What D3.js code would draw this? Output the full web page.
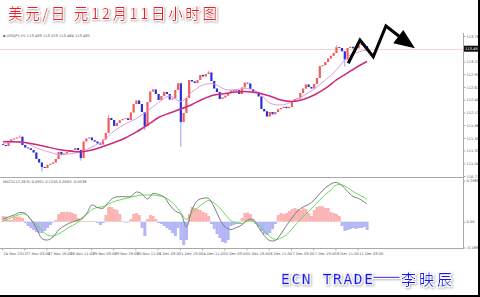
<!DOCTYPE html>
<html><head><meta charset="utf-8">
<script src="https://cdn.jsdelivr.net/npm/d3@7"></script>
<style>html,body{margin:0;padding:0;background:#fff;}svg{display:block;}</style>
</head><body>
<script>
// ---------- DATA ----------
const dateLabels = ["24 Nov 2017","27 Nov 03:00","27 Nov 19:00","28 Nov 11:00","29 Nov 03:00","29 Nov 19:00","30 Nov 11:00","1 Dec 03:00","1 Dec 19:00","4 Dec 11:00","5 Dec 03:00","5 Dec 19:00","6 Dec 11:00","7 Dec 03:00","7 Dec 19:00","8 Dec 11:00","11 Dec 03:00"];
const priceTicks = ["113.765","113.493","113.220","112.950","112.675","112.405","112.130","111.860","111.585","111.315","111.040","110.770"];
const macdTicks = ["0.2988","0.00","-0.1881"];
const firstOpen = 111.45;
const closes = [111.433,111.412,111.498,111.551,111.573,111.594,111.611,111.433,111.380,111.363,
111.327,111.273,111.134,111.059,110.963,110.942,111.010,111.031,111.059,111.134,
111.284,111.220,111.252,111.284,111.327,111.327,111.369,111.327,111.155,111.508,
111.573,111.594,111.536,111.508,111.466,111.444,111.551,111.690,112.011,111.968,
111.840,111.904,111.964,111.990,112.005,111.968,112.129,112.310,112.385,112.310,
112.139,111.840,112.353,112.578,112.621,112.524,112.396,112.482,112.567,112.524,
112.407,112.428,112.610,112.753,111.925,112.118,112.439,112.824,112.792,112.760,
112.824,112.931,112.899,112.952,112.984,112.802,112.642,112.567,112.417,112.450,
112.488,112.546,112.599,112.582,112.606,112.524,112.663,112.766,112.749,112.631,
112.574,112.556,112.471,112.204,112.154,112.043,112.139,112.090,112.139,112.197,
112.225,112.251,112.221,112.246,112.364,112.417,112.428,112.546,112.640,112.728,
112.674,112.642,112.738,112.867,113.119,113.140,113.209,113.284,113.341,113.401,
113.525,113.508,113.438,113.262,113.508,113.534,113.502,113.502,113.572,113.594,
113.551,113.485];
const wickIndex = [6,14,28,38,51,64,74,120,123,129];
const wickHigh  = [111.647,null,null,112.075,null,null,113.02,113.57,null,113.64];
const wickLow   = [null,110.862,111.10,null,111.754,111.397,null,null,113.108,null];
const maFast = [111.466,111.498,111.487,111.369,111.294,111.230,111.241,111.294,111.391,111.519,
111.733,111.883,112.000,112.161,112.343,112.482,112.364,112.567,112.717,112.738,
112.621,112.621,112.642,112.556,112.332,112.289,112.353,112.482,112.631,112.824,
113.038,113.316,113.423,113.466];
const maSlow = [111.504,111.504,111.487,111.444,111.391,111.337,111.305,111.290,111.327,111.401,
111.487,111.583,111.712,111.861,112.022,112.118,112.204,112.300,112.417,112.503,
112.535,112.567,112.574,112.546,112.482,112.396,112.364,112.407,112.503,112.642,
112.824,112.974,113.123,113.220];
const histo = [0.0416,0.0379,0.0124,0.0124,0.0343,0.0379,0.0365,0.0270,-0.0095,-0.0313,
-0.0459,-0.0605,-0.0751,-0.0824,-0.0824,-0.0678,-0.0459,-0.0241,-0.0058,0.0124,
0.0561,0.0707,0.0707,0.0729,0.0707,0.0634,0.0561,0.0270,0.0051,0.0051,
0.0051,0.0051,0.0051,0.0051,-0.0095,-0.0241,-0.0095,0.0488,0.1072,0.1072,
0.0926,0.0853,0.0561,0.0051,-0.0058,-0.0058,0.0197,0.0561,0.0634,0.0488,
-0.0459,-0.1042,0.0197,0.0488,0.0416,0.0197,-0.0095,-0.0168,-0.0313,-0.0459,
-0.0605,-0.0824,-0.1042,-0.0459,-0.1334,-0.1699,-0.1334,0.0561,0.1072,0.0999,
0.0926,0.0853,0.0707,0.0634,0.0416,-0.0168,-0.0532,-0.0897,-0.1188,-0.1480,
-0.1553,-0.1334,-0.0313,-0.0241,-0.0168,-0.0095,0.0270,0.0634,0.0671,0.0561,
0.0197,-0.0168,-0.0386,-0.0678,-0.0897,-0.0970,-0.0824,-0.0532,-0.0168,0.0488,
0.0634,0.0561,0.0634,0.0780,0.0926,0.0999,0.0926,0.0853,0.0999,0.0926,
0.0634,0.0416,0.0853,0.1072,0.1145,0.1108,0.0999,0.0999,0.0707,0.0634,
0.0561,0.0416,-0.0313,-0.0678,-0.0605,-0.0532,-0.0459,-0.0532,-0.0459,-0.0459,
-0.0386,-0.0605];
const macdMain = [0.0197,0.0343,0.0488,0.0671,0.0598,0.0160,-0.0459,-0.1225,-0.1334,-0.1115,
-0.0605,-0.0313,-0.0095,0.0051,0.0197,0.0561,0.1217,0.1035,0.0977,0.1436,
0.1764,0.1823,0.1823,0.1837,0.2165,0.2019,0.1655,0.2056,0.1983,0.1801,
0.1217,0.0780,0.0561,-0.0386,0.0853,0.1545,0.1706,0.1691,0.1072,0.0197,
-0.0386,-0.0569,-0.0423,-0.0241,0.0124,0.0160,-0.0423,-0.1006,-0.1371,-0.1371,
-0.0897,-0.0277,0.0270,0.0780,0.1072,0.1254,0.1582,0.2056,0.2457,0.2748,
0.2858,0.2639,0.2202,0.1837,0.1691,0.1436,0.1290];
const macdSignal = [0.0051,0.0197,0.0379,0.0525,0.0561,0.0160,-0.0204,-0.0642,-0.0970,-0.1042,
-0.0897,-0.0642,-0.0386,-0.0168,0.0124,0.0488,0.0889,0.1035,0.1094,0.1290,
0.1473,0.1582,0.1691,0.1801,0.1874,0.1946,0.1946,0.1946,0.1874,0.1801,
0.1545,0.1181,0.0671,0.0160,0.0634,0.0999,0.1327,0.1545,0.1363,0.0999,
0.0525,0.0087,-0.0095,-0.0131,0.0051,0.0015,-0.0277,-0.0642,-0.1079,-0.1298,
-0.1188,-0.0970,-0.0532,-0.0058,0.0379,0.0744,0.1145,0.1582,0.1983,0.2311,
0.2675,0.2675,0.2493,0.2202,0.1983,0.1764,0.1618];
// hand-drawn forecast arrow, in (bar index, price)
const arrowIdx   = [124.25,128.47,133.25,137.82,142.9];
const arrowPrice = [113.181,113.679,113.322,113.979,113.744];
const arrowHeadIdx   = [144.05,148.25,140.45];
const arrowHeadPrice = [113.893,113.502,113.609];
const currentPrice = 113.493;
const headerText = "\u25AA USDJPY,H1  113.493 113.523 113.464 113.485";
const macdHeader = "MACD(12,26,9) 0.0901 0.1200 0.0000 -0.0038";
const titleText = "美元/日 元12月11日小时图";
const footerA = "ECN TRADE", footerB = "——", footerC = "李映辰";

// ---------- CHART ----------
const W = 480, H = 297;
const svg = d3.select("body").append("svg").attr("width", W).attr("height", H);
const defs = svg.append("defs");
const f = defs.append("filter").attr("id","glow").attr("x","-10%").attr("y","-30%").attr("width","120%").attr("height","160%");
f.append("feMorphology").attr("in","SourceAlpha").attr("operator","dilate").attr("radius",1.3).attr("result","d");
f.append("feGaussianBlur").attr("in","d").attr("stdDeviation",1.2).attr("result","b");
f.append("feOffset").attr("in","b").attr("dx",1.2).attr("dy",1.2).attr("result","o");
f.append("feFlood").attr("flood-color","#b8b8b8");
f.append("feComposite").attr("in2","o").attr("operator","in").attr("result","shadow");
f.append("feFlood").attr("flood-color","#ffffff");
f.append("feComposite").attr("in2","d").attr("operator","in").attr("result","white");
const fm = f.append("feMerge");
fm.append("feMergeNode").attr("in","shadow");
fm.append("feMergeNode").attr("in","white");
fm.append("feMergeNode").attr("in","SourceGraphic");

svg.append("rect").attr("width",W).attr("height",H).attr("fill","#fff");

const n = closes.length;
const x = d3.scaleLinear().domain([0, n - 1]).range([3, 367]);
const step = x(1) - x(0);
const y = d3.scaleLinear().domain([110.770, 113.765]).range([176, 36]);
const ym = d3.scaleLinear().domain([-0.1881, 0.2988]).range([247.5, 180.7]);

// frame / separators
const gray = "#a8a8a8";
svg.append("line").attr("x1",0).attr("x2",463).attr("y1",177.5).attr("y2",177.5).attr("stroke",gray);
svg.append("line").attr("x1",0).attr("x2",463).attr("y1",248.5).attr("y2",248.5).attr("stroke",gray);
svg.append("line").attr("x1",463.5).attr("x2",463.5).attr("y1",33).attr("y2",249).attr("stroke",gray);

// current price line
svg.append("line").attr("x1",0).attr("x2",463).attr("y1",Math.round(y(currentPrice))+0.5).attr("y2",Math.round(y(currentPrice))+0.5)
  .attr("stroke","#f6d4d4").attr("stroke-width",1);

// candles
const opens = closes.map((c,i) => i === 0 ? firstOpen : closes[i-1]);
const candles = closes.map((c,i) => {
  const o = opens[i];
  let hi = Math.max(o,c), lo = Math.min(o,c);
  const w = wickIndex.indexOf(i);
  if (w >= 0) { if (wickHigh[w] != null) hi = wickHigh[w]; if (wickLow[w] != null) lo = wickLow[w]; }
  return {i, o, c, hi, lo, up: c >= o};
});
const cg = svg.append("g");
cg.selectAll("line.w").data(candles).join("line")
  .attr("x1", d => x(d.i)).attr("x2", d => x(d.i))
  .attr("y1", d => y(d.hi)).attr("y2", d => y(d.lo))
  .attr("stroke", d => d.up ? "#f7a0a0" : "#9a9cf0").attr("stroke-width", 1);
cg.selectAll("rect").data(candles).join("rect")
  .attr("x", d => x(d.i) - 1.1).attr("width", 2.2)
  .attr("y", d => y(Math.max(d.o,d.c)))
  .attr("height", d => Math.max(0.8, Math.abs(y(d.o) - y(d.c))))
  .attr("fill", d => d.up ? "#f45c5c" : "#2d2fd6");

// moving averages
const maIndex = [...d3.range(0, n, 4), n - 1];
const maLine = d3.line().x((d,i) => x(maIndex[i])).y(d => y(d)).curve(d3.curveCatmullRom);
svg.append("path").datum(maFast).attr("d", maLine).attr("fill","none").attr("stroke","#d89ee8").attr("stroke-width",1);
svg.append("path").datum(maSlow).attr("d", maLine).attr("fill","none").attr("stroke","#cc2a7a").attr("stroke-width",1.5);

// arrow
const ap = arrowIdx.map((d,i) => [x(d), y(arrowPrice[i])]);
svg.append("path").attr("d", d3.line()(ap)).attr("fill","none").attr("stroke","#000").attr("stroke-width",3).attr("stroke-linejoin","miter");
const ah = arrowHeadIdx.map((d,i) => [x(d), y(arrowHeadPrice[i])]);
svg.append("path").attr("d", d3.line()(ah) + "Z").attr("fill","#000");

// MACD histogram
svg.append("g").selectAll("rect").data(histo).join("rect")
  .attr("x", (d,i) => x(i) - step/2).attr("width", step + 0.2)
  .attr("y", d => Math.min(ym(d), ym(0))).attr("height", d => Math.abs(ym(d) - ym(0)))
  .attr("fill", d => d >= 0 ? "#fbb3b3" : "#b3b5f7");
const macdIndex = [...d3.range(0, n, 2), n - 1];
const mline = d3.line().x((d,i) => x(macdIndex[i])).y(d => ym(d)).curve(d3.curveCatmullRom);
svg.append("path").datum(macdSignal).attr("d", mline).attr("fill","none").attr("stroke","#66dd55").attr("stroke-width",1);
svg.append("path").datum(macdMain).attr("d", mline).attr("fill","none").attr("stroke","#7d7d7d").attr("stroke-width",1);

// axes
const tinyFont = "DejaVu Sans";
const pAxis = d3.axisRight(y).tickValues(priceTicks.map(Number)).tickFormat((d,i) => priceTicks[i]).tickSize(2).tickPadding(1);
const pg = svg.append("g").attr("transform","translate(463.5,0)").call(pAxis);
pg.select(".domain").remove();
pg.selectAll(".tick line").attr("stroke", gray);
pg.selectAll("text").attr("font-family", tinyFont).attr("font-size", 3.6).attr("fill","#555");

// current price box
const cy = y(currentPrice);
svg.append("rect").attr("x",464).attr("y",cy-3).attr("width",14).attr("height",6).attr("fill","#111");
svg.append("text").attr("x",465).attr("y",cy+1.3).text(currentPrice.toFixed(3))
  .attr("font-family",tinyFont).attr("font-size",3.6).attr("fill","#fff");

const mAxis = d3.axisRight(ym).tickValues(macdTicks.map(Number)).tickFormat((d,i) => macdTicks[i]).tickSize(2).tickPadding(1);
const mg = svg.append("g").attr("transform","translate(463.5,0)").call(mAxis);
mg.select(".domain").remove();
mg.selectAll(".tick line").attr("stroke", gray);
mg.selectAll("text").attr("font-family", tinyFont).attr("font-size", 3.6).attr("fill","#555");

const dAxis = d3.axisBottom(x).tickValues(d3.range(0, n, 8)).tickFormat((d,i) => dateLabels[i]).tickSize(2).tickPadding(1.5);
const dg = svg.append("g").attr("transform","translate(-1,248.5)").call(dAxis);
dg.select(".domain").remove();
dg.selectAll(".tick line").attr("stroke", gray);
dg.selectAll("text").attr("font-family", tinyFont).attr("font-size", 3.6).attr("fill","#555")
  .attr("text-anchor","start").attr("x", 1);

// headers
svg.append("text").attr("x",3).attr("y",37).text(headerText).attr("font-family",tinyFont).attr("font-size",3.6).attr("fill","#555");
svg.append("text").attr("x",3).attr("y",183).text(macdHeader).attr("font-family",tinyFont).attr("font-size",3.6).attr("fill","#555");

// title
svg.append("text").attr("x",8).attr("y",19).text(titleText)
  .attr("font-family","'Noto Sans CJK SC'").attr("font-size",14.5).attr("fill","#ee1c24")
  .attr("textLength",209).attr("lengthAdjust","spacing").attr("filter","url(#glow)");

// footer
const ft = svg.append("g").attr("filter","url(#glow)");
ft.append("text").attr("x",281).attr("y",284).text(footerA).attr("font-family","'DejaVu Sans Mono'").attr("font-size",14.5)
  .attr("fill","#1515ee").attr("stroke","#1515ee").attr("stroke-width",0.35)
  .attr("textLength",92).attr("lengthAdjust","spacing");
ft.append("text").attr("x",373).attr("y",281).text(footerB).attr("font-family","'Noto Sans CJK SC'").attr("font-size",14)
  .attr("fill","#1515ee").attr("stroke","#1515ee").attr("stroke-width",0.4)
  .attr("textLength",27).attr("lengthAdjust","spacingAndGlyphs");
ft.append("text").attr("x",401).attr("y",285).text(footerC).attr("font-family","'Noto Sans CJK SC'").attr("font-size",15)
  .attr("fill","#1515ee").attr("textLength",51).attr("lengthAdjust","spacing");

// outer frame (right & bottom black edges)
svg.append("rect").attr("x",478).attr("y",0).attr("width",2).attr("height",H).attr("fill","#000");
svg.append("rect").attr("x",0).attr("y",295).attr("width",W).attr("height",2).attr("fill","#000");
</script>
</body></html>
